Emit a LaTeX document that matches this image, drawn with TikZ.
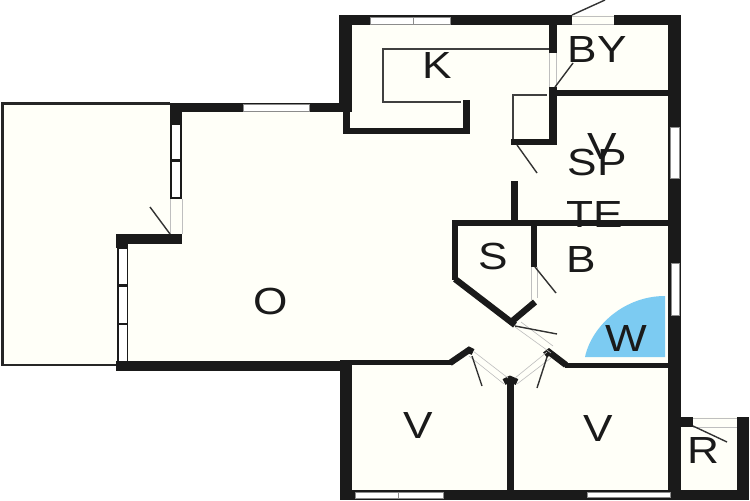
\documentclass[tikz,border=0pt]{standalone}
\usepackage{fontspec}
\setmainfont{Liberation Sans}
\definecolor{plancream}{HTML}{FFFFF8}
\definecolor{wetblue}{HTML}{7CCBF2}
\definecolor{wallblack}{HTML}{1A1A1A}
\tikzset{
  wall/.style={wallblack},
  diagwall/.style={draw=wallblack,line width=3.6pt},
  counterline/.style={draw=black!75,line width=0.85pt},
  leafline/.style={draw=black!80,line width=0.8pt},
  gapline/.style={draw=black!25,line width=0.35pt},
  windowpane/.style={fill=white,draw=black!45,line width=0.3pt},
  roomlabel/.style={inner sep=0pt,text=wallblack,font=\fontsize{21.5}{21.5}\selectfont,xscale=1.17,transform shape}
}
\begin{document}
\begin{tikzpicture}[x=0.02cm,y=-0.02cm]
        \useasboundingbox (0,0) rectangle (750,500);
        \fill [plancream] (2,103) -- (343,103) -- (343,15) -- (681,15) -- (681,417) -- (749,417) -- (749,500) -- (340,500) -- (340,371) -- (117,371) -- (117,365) -- (2,365) -- cycle;
        \fill [wetblue] (665,357) -- (585,357) .. controls (592,325) and (625,296) .. (665,296) -- cycle;
        \draw [black!85,line width=1.3pt] (170,103.5) -- (2.5,103.5) -- (2.5,365) -- (117,365);
        % outer walls
        \fill [wall] (339,15) rectangle (572,25);
        \fill [wall] (614,15) rectangle (681,25);
        \fill [wall] (339,15) rectangle (352,112);
        \fill [wall] (343,112) rectangle (350,134);
        \fill [wall] (343,128) rectangle (470,134);
        \fill [wall] (463,100) rectangle (470,134);
        \fill [wall] (668,15) rectangle (681,500);
        \fill [wall] (170,103) rectangle (350,112);
        \fill [wall] (170,103) rectangle (182,124);
        \fill [wall] (116,234) rectangle (182,244);
        \fill [wall] (116,234) rectangle (128,248);
        \fill [wall] (116,361) rectangle (345,371);
        \fill [wall] (340,360) rectangle (352,500);
        \fill [wall] (340,490) rectangle (749,500);
        \fill [wall] (737,417) rectangle (749,500);
        \fill [wall] (681,417) rectangle (693,427);
        % inner walls
        \fill [wall] (549,25) rectangle (557,53);
        \fill [wall] (549,87) rectangle (557,145);
        \fill [wall] (557,90) rectangle (669,96);
        \fill [wall] (511,139) rectangle (557,145);
        \fill [wall] (511,181) rectangle (518,226);
        \fill [wall] (452,220) rectangle (669,226);
        \fill [wall] (452,220) rectangle (458,280);
        \fill [wall] (531,225) rectangle (537,267);
        \fill [wall] (565,363) rectangle (669,368);
        \fill [wall] (345,360) rectangle (452,365);
        \fill [wall] (507,382) rectangle (514,492);
        \draw [diagwall] (455,279) -- (515,325);
        \draw [diagwall] (535,302) -- (510,323);
        \draw [diagwall] (450,363) -- (469,350) -- (473,352);
        \draw [diagwall] (566,365) -- (549,352) -- (545,355);
        \draw [diagwall] (504,382) -- (510,379) -- (517,382);
        % windows
        \draw [windowpane] (370,17) rectangle (450,24);
        \draw [windowpane] (413,17) -- (413,24);
        \draw [windowpane] (243,104) rectangle (309,111);
        \draw [windowpane] (670,127) rectangle (679,178);
        \draw [windowpane] (671,263) rectangle (679,315);
        \draw [windowpane] (355,492) rectangle (443,498);
        \draw [windowpane] (398,492) -- (398,498);
        \draw [windowpane] (587,492) rectangle (670,497);
        \fill [wall] (170,124) rectangle (182,199);
        \fill [white] (172,125) rectangle (180,159);
        \fill [white] (172,162) rectangle (180,197);
        \fill [wall] (117,248) rectangle (128,365);
        \fill [white] (119,249) rectangle (127,284);
        \fill [white] (119,287) rectangle (127,323);
        \fill [white] (119,325) rectangle (127,361);
        % door openings
        \draw [gapline] (572,16) -- (614,16);
        \draw [gapline] (572,24) -- (614,24);
        \draw [gapline] (549,53) -- (549,87);
        \draw [gapline] (556,53) -- (556,87);
        \draw [gapline] (170,199) -- (170,234);
        \draw [gapline] (182,199) -- (182,234);
        \draw [gapline] (531,267) -- (531,300);
        \draw [gapline] (537,267) -- (537,298);
        \draw [gapline] (693,418) -- (737,418);
        \draw [gapline] (693,427) -- (737,427);
        \draw [gapline] (515,327) -- (551,353);
        \draw [gapline] (521,322) -- (553,346);
        \draw [gapline] (473,351) -- (508,378);
        \draw [gapline] (469,356) -- (504,384);
        \draw [gapline] (515,378) -- (547,352);
        \draw [gapline] (517,384) -- (551,358);
        % door leaves
        \draw [leafline] (572,15) -- (605,0);
        \draw [leafline] (555,87) -- (573,63);
        \draw [leafline] (517,145) -- (537,173);
        \draw [leafline] (170,234) -- (150,207);
        \draw [leafline] (535,267) -- (556,293);
        \draw [leafline] (515,326) -- (557,334);
        \draw [leafline] (547,357) -- (537,388);
        \draw [leafline] (472,356) -- (482,386);
        \draw [leafline] (693,426) -- (727,442);
        % kitchen counter and cupboard
        \draw [counterline] (549,49) -- (383,49) -- (383,102) -- (461,102);
        \draw [counterline] (513,139) -- (513,95) -- (547,95);
        % room names
        \node [roomlabel] (kitchen) at (437,66) {K};
        \node [roomlabel] (storage) at (597,49.5) {BY};
        \node [roomlabel] (bedsmall) at (602,147) {V};
        \node [roomlabel] (play) at (597,162.5) {SP};
        \node [roomlabel] (tech) at (595,215) {TE};
        \node [roomlabel] (shower) at (493.5,256.5) {S};
        \node [roomlabel] (bath) at (581.5,260) {B};
        \node [roomlabel] (wetroom) at (626,338.5) {W};
        \node [roomlabel] (living) at (271,301.5) {O};
        \node [roomlabel] (bedleft) at (418.5,426) {V};
        \node [roomlabel] (bedright) at (598,428.5) {V};
        \node [roomlabel] (utility) at (703,450.5) {R};
      \end{tikzpicture}
\end{document}
